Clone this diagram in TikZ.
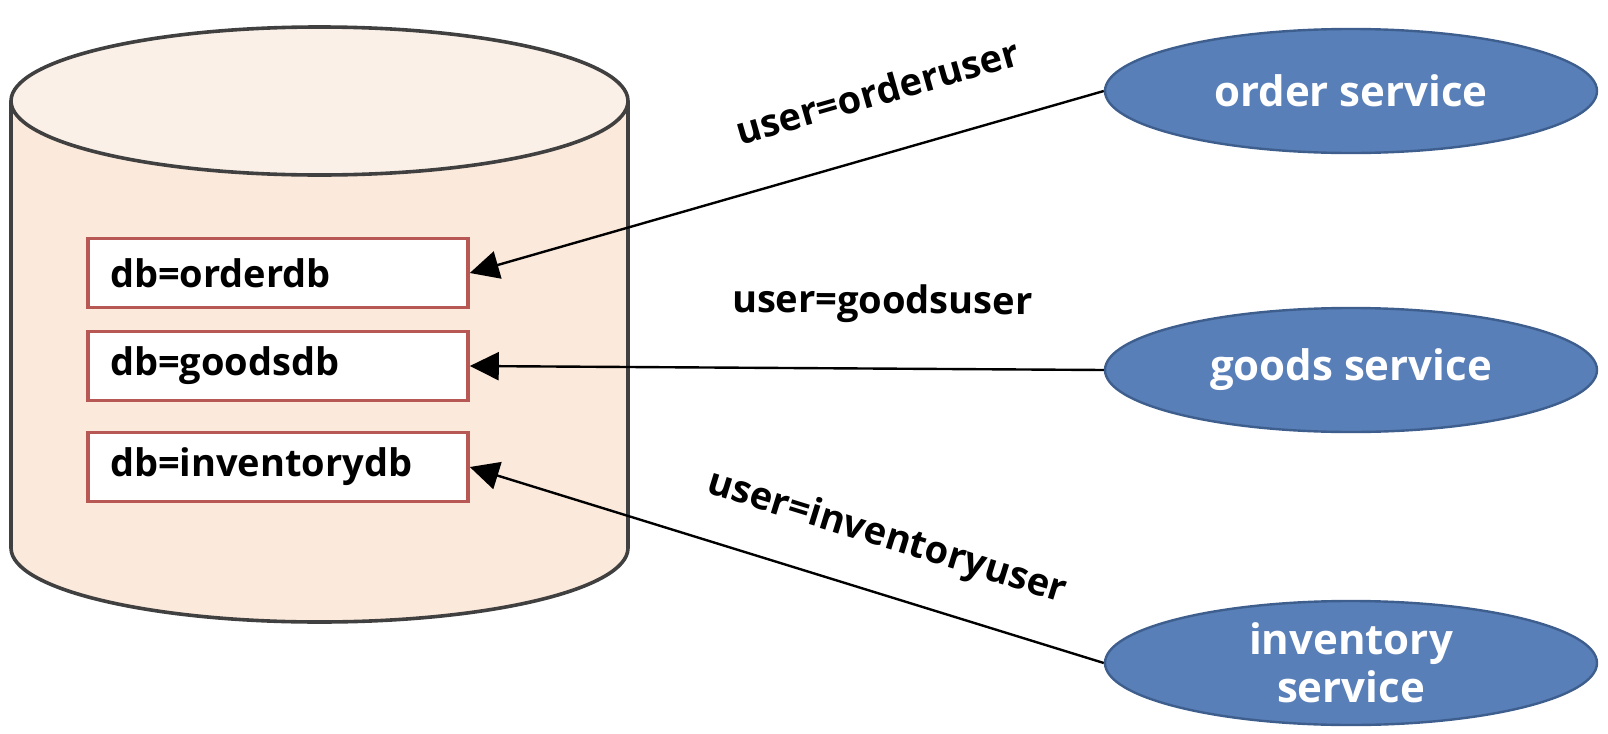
\documentclass[tikz,border=0pt]{standalone}
\usepackage{fontspec}
\setmainfont{Open Sans}
\usetikzlibrary{shapes,arrows.meta,positioning}
\definecolor{dbside}{RGB}{251,233,219}
\definecolor{dbtop}{RGB}{250,240,231}
\definecolor{dbline}{RGB}{64,64,64}
\definecolor{boxred}{RGB}{184,88,84}
\definecolor{svcblue}{RGB}{88,127,184}
\definecolor{svcline}{RGB}{62,94,142}

\begin{document}
\begin{tikzpicture}[x=0.5pt,y=-0.5pt,
		dbbox/.style={draw=boxred, fill=white, line width=1.8pt, minimum height=34.5pt, text width=168pt, inner xsep=11pt, inner ysep=0pt, align=left, font=\fontsize{19}{22}\selectfont\bfseries},
		service/.style={ellipse, draw=svcline, fill=svcblue, line width=1.2pt, minimum width=246pt, minimum height=62pt, inner sep=0pt, text=white, align=center, font=\fontsize{21}{24}\selectfont\bfseries},
		link/.style={line width=1.2pt, -{Triangle[length=14.5pt,width=14pt]}},
		userlabel/.style={sloped, inner sep=0pt, text depth=0pt, font=\fontsize{19}{22}\selectfont\bfseries}]
	\useasboundingbox (0,0) rectangle (1608,734);
	% Draw database
	\filldraw[fill=dbside, draw=dbline, line width=1.8pt] (11,101) -- (11,548) arc[start angle=180, end angle=0, x radius=308.5, y radius=74] -- (628,101);
	\filldraw[fill=dbtop, draw=dbline, line width=1.8pt] (319.5,101) ellipse[x radius=308.5, y radius=74];
	% Draw tables
	\node[dbbox] (orderdb) at (278,273) {db=orderdb};
	\node[dbbox] (goodsdb) at (278,366) {db=goodsdb};
	\node[dbbox] (inventorydb) at (278,467) {db=inventorydb};
	% Draw services
	\node[service] (order) at (1351,91) {order service};
	\node[service] (goods) at (1351,370) {goods service};
	\node[service] (inventory) at (1351,663) {inventory\\service};
	% Draw connections
	\draw[link] (order.west) -- (orderdb.east) node[userlabel, pos=0.33, above=23.5pt] {user=orderuser};
	\draw[link] (goods.west) -- (goodsdb.east) node[userlabel, pos=0.35, above=27pt] {user=goodsuser};
	\draw[link] (inventory.west) -- (inventorydb.east) node[userlabel, pos=0.368, above=22pt] {user=inventoryuser};
\end{tikzpicture}
\end{document}
